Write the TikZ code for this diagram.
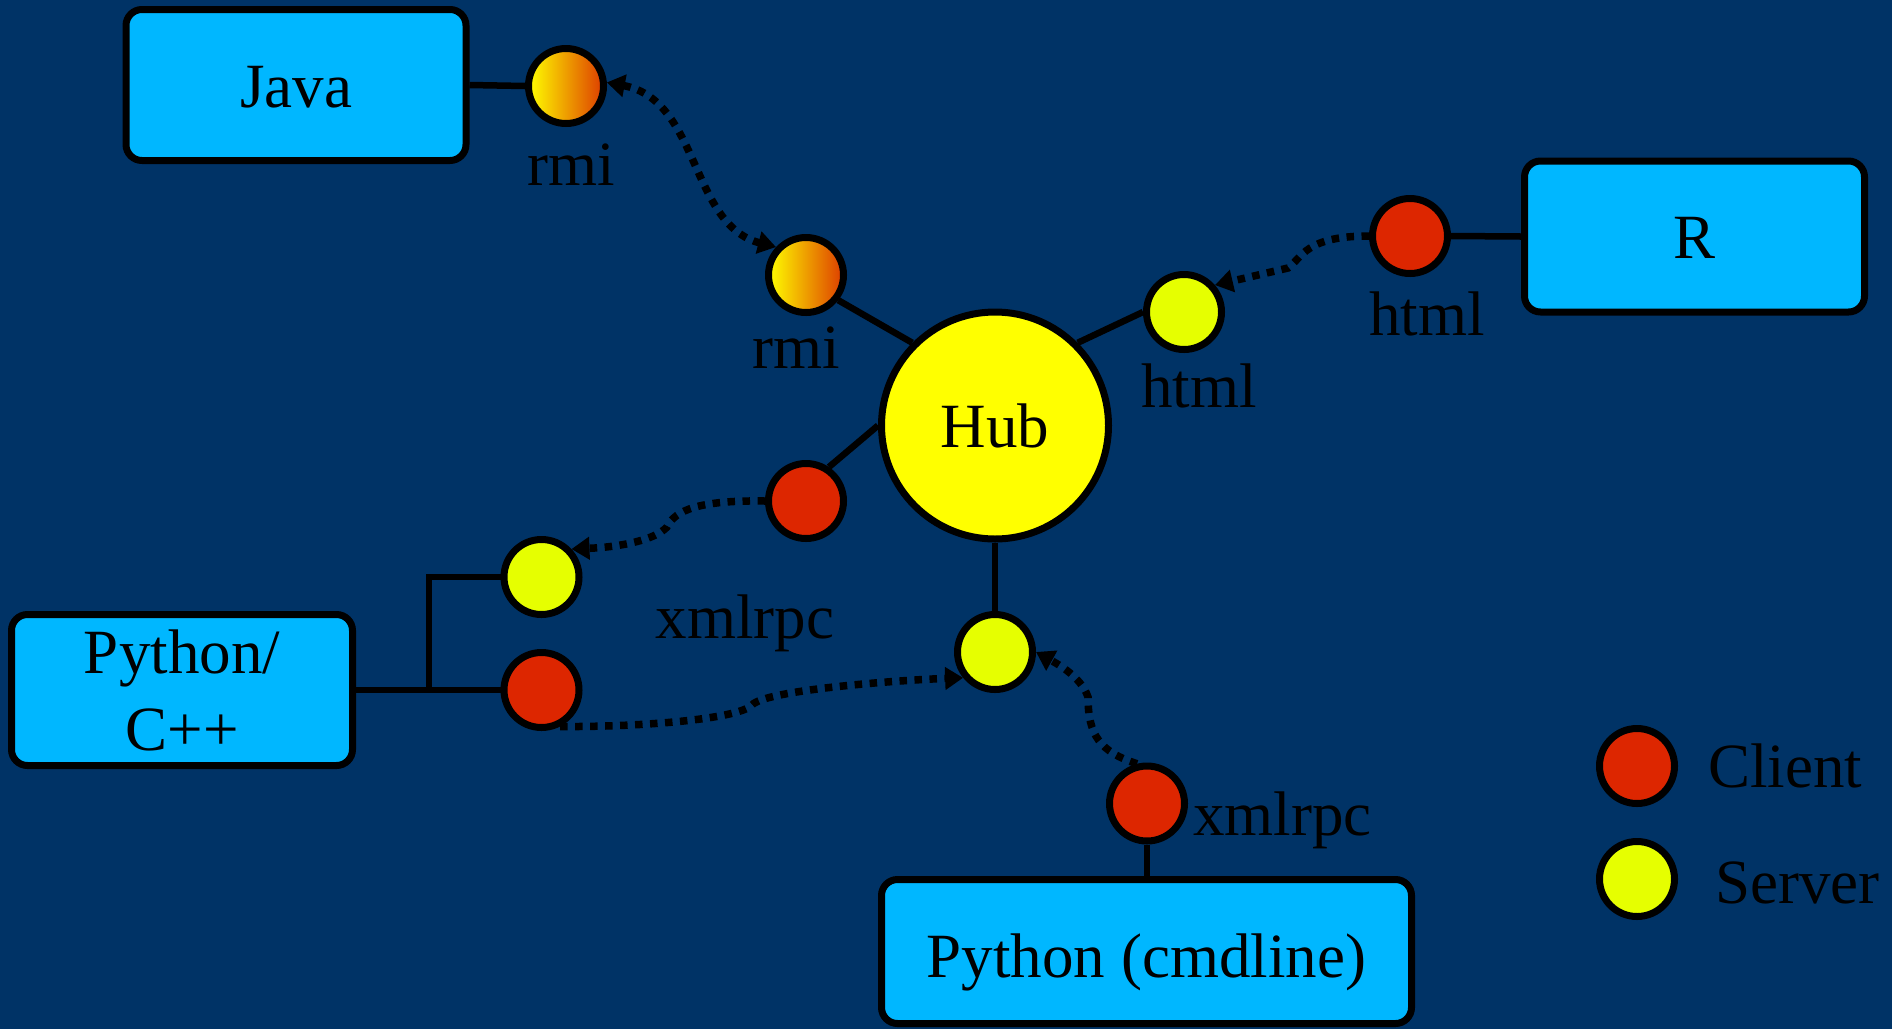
\documentclass[tikz,border=0pt]{standalone}
\usepackage{fontspec}
\setmainfont{Liberation Serif}
\usetikzlibrary{arrows.meta}
\definecolor{bg}{RGB}{0,51,102}
\definecolor{boxc}{RGB}{0,183,255}
\definecolor{clientc}{RGB}{221,38,0}
\definecolor{serverc}{RGB}{230,255,0}
\definecolor{hubc}{RGB}{255,255,0}
\definecolor{rmiL}{RGB}{255,255,0}
\definecolor{rmiR}{RGB}{221,60,0}
\begin{document}
\begin{tikzpicture}[x=1pt,y=-1pt,
  every node/.style={font=\fontsize{63}{71}\selectfont},
  box/.style={draw=black, line width=7pt, fill=boxc, rounded corners=16pt,
    minimum width=340pt, minimum height=151pt, inner sep=0pt, align=center},
  port/.style={circle, draw=black, line width=7pt, minimum size=75pt, inner sep=0pt},
  client/.style={port, fill=clientc},
  server/.style={port, fill=serverc},
  rmiport/.style={port, left color=rmiL, right color=rmiR},
  hubnode/.style={circle, draw=black, line width=7pt, fill=hubc, minimum size=227pt, inner sep=0pt},
  wire/.style={line width=6.5pt},
  msg/.style={line width=7.5pt, dash pattern=on 7.5pt off 7.5pt, -{Triangle[length=18pt,width=22pt]}},
  msgboth/.style={line width=7.5pt, dash pattern=on 7.5pt off 7.5pt, {Triangle[length=18pt,width=22pt]}-{Triangle[length=18pt,width=22pt]}},
  lbl/.style={anchor=base, inner sep=0pt},
  lgd/.style={anchor=base west, inner sep=0pt},
]
\fill[bg] (0,0) rectangle (1892,1029);
\useasboundingbox (0,0) rectangle (1892,1029);

% boxes
\node[box, text height=44pt, text depth=0pt] (java) at (296,85) {Java};
\node[box, text height=43pt, text depth=0pt] (r) at (1694.5,236.5) {R};
\node[box, minimum width=341pt] (pyc) at (182,690) {Python/\\[6pt]C++};
\node[box, minimum width=530pt, minimum height=144pt, text height=51pt, text depth=0pt] (pycmd) at (1146.5,951.5) {Python (cmdline)};

% hub
\node[hubnode] (hub) at (995,425.5) {Hub};

% ports
\node[rmiport] (jr) at (566,86) {};
\node[rmiport] (hr) at (806,275) {};
\node[server] (hs) at (1184,312) {};
\node[client] (rc) at (1410,236) {};
\node[client] (hc) at (806,501) {};
\node[server] (ps) at (541.5,577) {};
\node[client] (pc) at (541.5,690) {};
\node[server] (bs) at (995,652) {};
\node[client] (cc) at (1147,803.5) {};

% legend
\node[client] (lc) at (1637,766) {};
\node[server] (ls) at (1637,879) {};
\node[lgd] (lct) at (1708,787) {Client};
\node[lgd] (lst) at (1715,903) {Server};

% labels
\node[lbl] (lrmi1) at (571,185) {rmi};
\node[lbl] (lrmi2) at (796,368) {rmi};
\node[lbl] (lhtml1) at (1199,407) {html};
\node[lbl] (lhtml2) at (1427,335) {html};
\node[lbl] (lxml1) at (745,638) {xmlrpc};
\node[anchor=base west, inner sep=0pt] (lxml2) at (1193,835) {xmlrpc};

% solid wires
\draw[wire] (java.east) -- (jr.west);
\draw[wire] (hr.-38) -- (hub.135);
\draw[wire] (hub.45) -- (hs.180);
\draw[wire] (hub.180) -- (hc.56);
\draw[wire] (hub.south) -- (bs.north);
\draw[wire] (rc.east) -- (r.west);
\coordinate (jn) at (429,690);
\draw[wire] (pyc.east) -- (pc.west);
\draw[wire] (ps.west) -| (jn);
\draw[wire] (cc.south) -- (cc.south |- pycmd.north);

% message arrows
\draw[msgboth] (jr.5) .. controls (700,100) and (690,225) .. (hr.137);
\draw[msg] (rc.west) .. controls (1305,236) and (1302,258) .. (1288,268) -- (hs.41);
\draw[msg] (hc.west) .. controls (700,500) and (675,510) .. (667,527) .. controls (655,540) and (620,547) .. (ps.43);
\draw[msg] (pc.-63) .. controls (650,727) and (740,718) .. (752,705) .. controls (765,690) and (900,680) .. (bs.219);
\draw[msg] (cc.104) .. controls (1100,752) and (1088,735) .. (1088,697) .. controls (1082,680) and (1065,668) .. (bs.east);
\end{tikzpicture}
\end{document}
